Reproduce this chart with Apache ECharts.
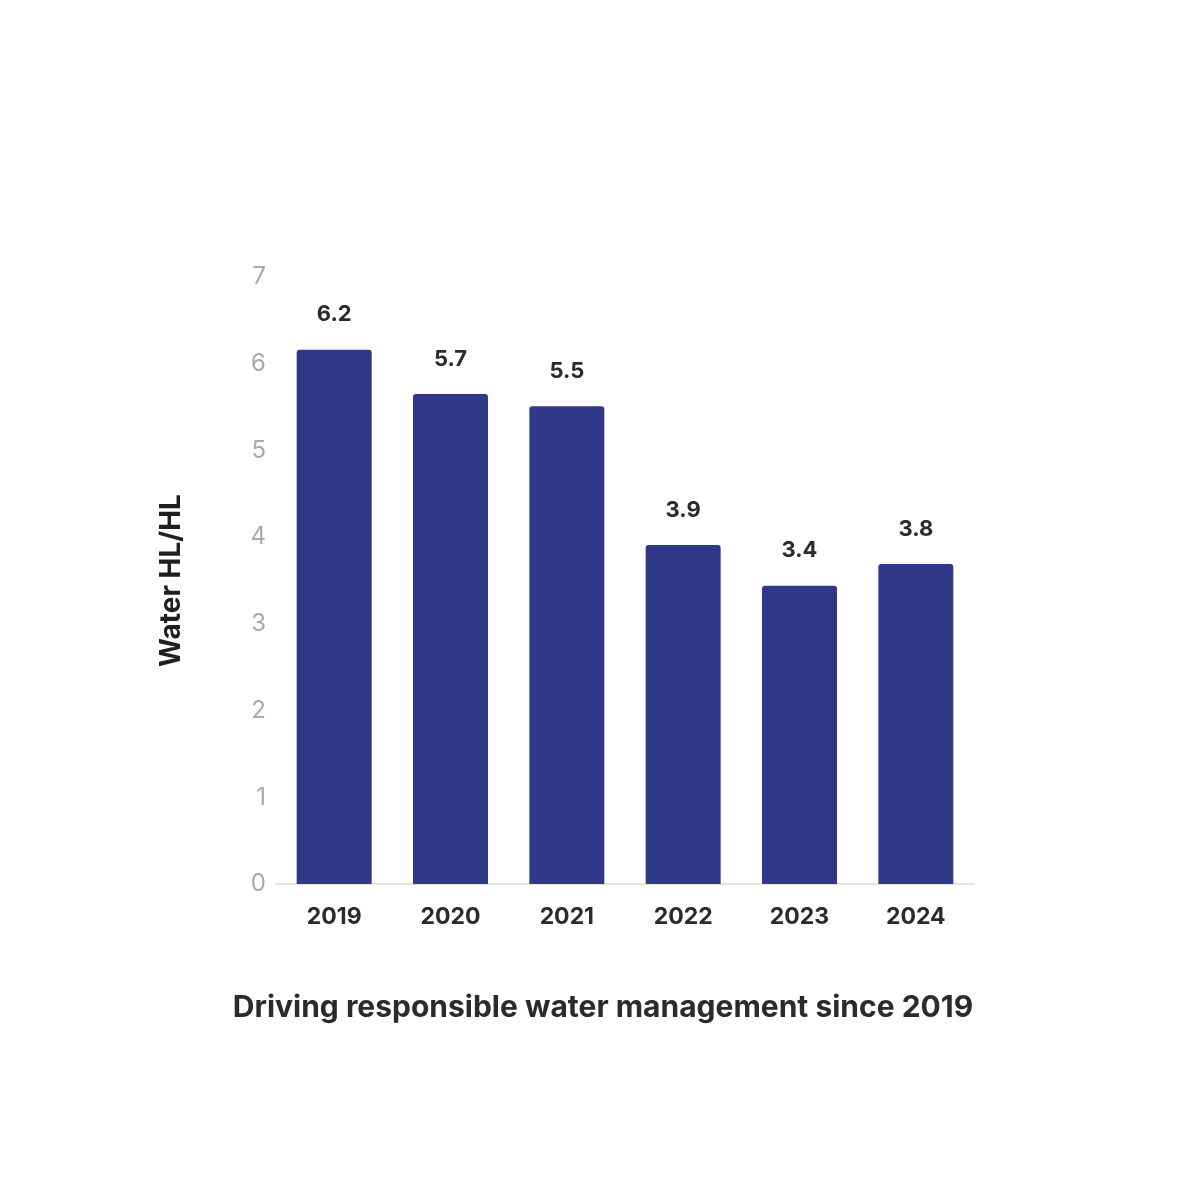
<!DOCTYPE html>
<html>
<head>
<meta charset="utf-8">
<script src="https://cdn.jsdelivr.net/npm/echarts@6/dist/echarts.min.js"></script>
<style>html,body{margin:0;background:#fff}#main{width:1200px;height:1200px}</style>
</head>
<body>
<div id="main"></div>
<script>
  // data
  var years = ['2019', '2020', '2021', '2022', '2023', '2024'];
  var barValues = [6.16, 5.65, 5.51, 3.91, 3.44, 3.69];
  var labelTexts = ['6.2', '5.7', '5.5', '3.9', '3.4', '3.8'];

  var chart = echarts.init(document.getElementById('main'));
  var option = {
    animation: false,
    grid: { left: 276, right: 226, top: 277, bottom: 316 },
    title: {
      text: 'Driving responsible water management since 2019',
      left: 598, textAlign: 'center', top: 988,
      textStyle: { fontFamily: 'Inter', fontSize: 30, fontWeight: 'bold', color: '#2b2b2b' }
    },
    xAxis: {
      type: 'category',
      data: years,
      axisTick: { show: false },
      axisLine: { lineStyle: { color: '#e3e3e3', width: 2 } },
      axisLabel: { margin: 22, fontFamily: 'Inter', fontSize: 23, fontWeight: 'bold', color: '#2b2b2b' }
    },
    yAxis: {
      type: 'value', min: 0, max: 7, interval: 1,
      name: 'Water HL/HL',
      nameLocation: 'middle', nameGap: 90,
      nameTextStyle: { fontFamily: 'Inter', fontSize: 28, fontWeight: 'bold', color: '#1f1f1f' },
      splitLine: { show: false },
      axisLabel: { margin: 10, fontFamily: 'Inter', fontSize: 24, color: '#a9a9a9' }
    },
    series: [{
      type: 'bar',
      data: barValues,
      barWidth: 75,
      itemStyle: { color: '#303987', borderRadius: [3, 3, 0, 0] },
      label: {
        show: true, position: 'top', distance: 24,
        fontFamily: 'Inter', fontSize: 22, fontWeight: 'bold', color: '#2b2b2b',
        formatter: function (p) { return labelTexts[p.dataIndex]; }
      }
    }]
  };
  chart.setOption(option);
</script>
</body>
</html>
